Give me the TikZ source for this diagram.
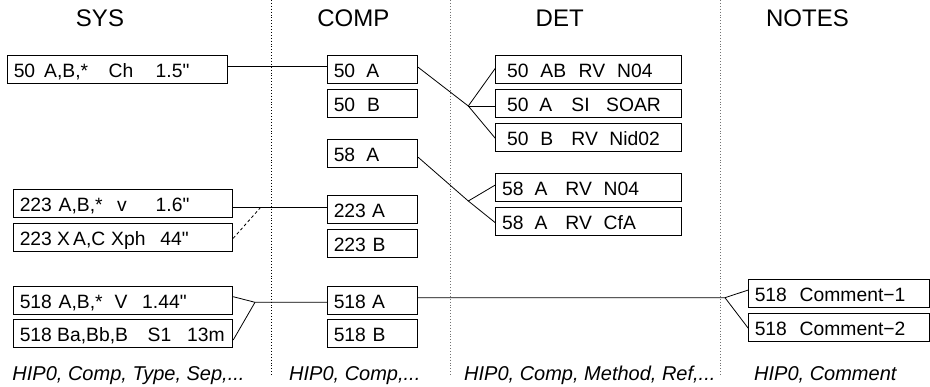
\documentclass[tikz,border=0pt]{standalone}
\usepackage{fontspec}
\setmainfont{Liberation Sans}[Ligatures=TeXOff]
\newcommand\bx[2]{\makebox[#1pt][l]{#2}}
\newcommand\w[2]{\makebox[0pt][l]{\hspace{#1pt}#2}}
\newcommand\dq{"}
\begin{document}
\begin{tikzpicture}[x=1pt,y=-1pt,
  box/.style={draw, line width=0.9pt, inner sep=0pt, anchor=north west,
    text height=22.2pt, text depth=5.8pt, font=\fontsize{19.3}{22}\selectfont},
  conn/.style={line width=0.8pt},
  sepline/.style={dotted, line width=0.9pt},
  title/.style={anchor=base, inner sep=0pt, font=\fontsize{24}{28}\selectfont},
  foot/.style={anchor=base west, inner sep=0pt, font=\fontsize{20}{24}\selectfont\itshape}]
\useasboundingbox (0,0) rectangle (930,386);
% separators
\draw[sepline] (271.7,0) -- (271.7,375);
\draw[sepline, black!55] (450.7,0) -- (450.7,375);
\draw[sepline, black!55] (720,0) -- (720,375);
% titles
\node[title] (tsys) at (100,26.7) {SYS};
\node[title] (tcomp) at (353.3,26.7) {COMP};
\node[title] (tdet) at (559.7,26.7) {DET};
\node[title] (tnotes) at (807.5,26.7) {NOTES};
% SYS
\node[box] (s50) at (7.3,55.3) {\bx{219.4}{\hspace{6pt}\w{0}{50}\w{30.5}{A,B,*}\w{95}{Ch}\w{142}{1.5\dq}}};
\node[box] (s223a) at (13.3,189.3) {\bx{219}{\hspace{6pt}\w{0}{223}\w{39}{A,B,*}\w{97.5}{v}\w{136}{1.6\dq}}};
\node[box] (s223x) at (13.3,223.3) {\bx{219}{\hspace{6pt}\w{0}{223}\w{37.5}{X}\w{53.5}{A,C}\w{91.5}{Xph}\w{140.7}{44\dq}}};
\node[box] (s518a) at (13.3,286) {\bx{219}{\hspace{6pt}\w{0}{518}\w{39}{A,B,*}\w{95}{V}\w{122.5}{1.44\dq}}};
\node[box] (s518b) at (13.3,319.3) {\bx{219}{\hspace{6pt}\w{0}{518}\w{37.5}{Ba,Bb,B}\w{128}{S1}\w{167.5}{13m}}};
% COMP
\node[box] (c50a) at (327.3,55.3) {\bx{90}{\hspace{6pt}\w{0}{50}\w{32.7}{A}}};
\node[box] (c50b) at (327.3,88.7) {\bx{90}{\hspace{6pt}\w{0}{50}\w{33.3}{B}}};
\node[box] (c58a) at (327.3,139.3) {\bx{90}{\hspace{6pt}\w{0}{58}\w{32.7}{A}}};
\node[box] (c223a) at (327.3,195) {\bx{90}{\hspace{6pt}\w{0}{223}\w{38.5}{A}}};
\node[box] (c223b) at (327.3,229.3) {\bx{90}{\hspace{6pt}\w{0}{223}\w{39}{B}}};
\node[box] (c518a) at (327.3,286) {\bx{90}{\hspace{6pt}\w{0}{518}\w{38.5}{A}}};
\node[box] (c518b) at (327.3,319.3) {\bx{90}{\hspace{6pt}\w{0}{518}\w{39}{B}}};
% DET
\node[box] (d1) at (495.3,55.3) {\bx{185.7}{\hspace{6pt}\w{5.4}{50}\w{38.7}{AB}\w{77}{RV}\w{115.4}{N04}}};
\node[box] (d2) at (495.3,88.7) {\bx{185.7}{\hspace{6pt}\w{5.4}{50}\w{37.7}{A}\w{69.7}{SI}\w{104.4}{SOAR}}};
\node[box] (d3) at (495.3,122.5) {\bx{185.7}{\hspace{6pt}\w{5.4}{50}\w{38.7}{B}\w{69.7}{RV}\w{107.7}{Nid02}}};
\node[box] (d4) at (495.3,173.3) {\bx{185.7}{\hspace{6pt}\w{0.4}{58}\w{33}{A}\w{63.7}{RV}\w{102}{N04}}};
\node[box] (d5) at (495.3,206.7) {\bx{185.7}{\hspace{6pt}\w{0.4}{58}\w{33}{A}\w{63.7}{RV}\w{102}{CfA}}};
% NOTES
\node[box] (n1) at (748.3,279.3) {\bx{180.7}{\hspace{6pt}\w{0}{518}\w{45}{Comment−1}}};
\node[box] (n2) at (748.3,313.3) {\bx{180.7}{\hspace{6pt}\w{0}{518}\w{45}{Comment−2}}};
% footers
\node[foot] (f1) at (12.3,380) {HIP0, Comp, Type, Sep,...};
\node[foot] (f2) at (289,380) {HIP0, Comp,...};
\node[foot] (f3) at (464,380) {HIP0, Comp, Method, Ref,...};
\node[foot] (f4) at (754,380) {HIP0, Comment};
% connectors
\coordinate (j1) at (468.3,106);
\coordinate (j2) at (468.3,201);
\coordinate (j3) at (260.7,207.3);
\coordinate (j4) at (255,302.3);
\coordinate (j5) at (725,297.7);
\draw[conn] (s50.east |- 0,66.7) -- (c50a.west |- 0,66.7);
\draw[conn] (c50a.east |- 0,67.3) -- (j1) -- (d1.west |- 0,68.3);
\draw[conn] (j1) -- (d2.west |- 0,106);
\draw[conn] (j1) -- (d3.west |- 0,138.3);
\draw[conn] (c58a.east |- 0,157.3) -- (j2) -- (d4.west |- 0,185);
\draw[conn] (j2) -- (d5.west |- 0,222.7);
\draw[conn] (s223a.east |- 0,207.3) -- (c223a.west |- 0,207.3);
\draw[conn, dash pattern=on 3pt off 2.5pt] (j3) -- (s223x.east |- 0,238.3);
\draw[conn] (s518a.east |- 0,296.7) -- (j4) -- (c518a.west |- 0,302.3);
\draw[conn] (s518b.east |- 0,340) -- (j4);
\draw[conn] (c518a.east |- 0,297.7) -- (j5) -- (n1.west |- 0,290);
\draw[conn] (j5) -- (n2.west |- 0,328.3);
\end{tikzpicture}
\end{document}
